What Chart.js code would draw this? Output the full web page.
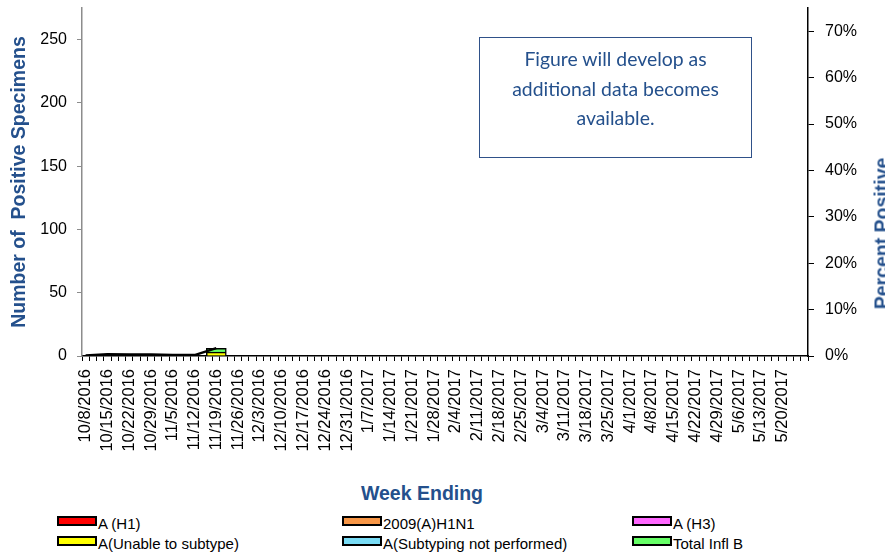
<!DOCTYPE html>
<html>
<head>
<meta charset="utf-8">
<script src="https://cdn.jsdelivr.net/npm/chart.js@4"></script>
<style>
  body { margin: 0; background: #fff; overflow: hidden; }
  #wrap { position: relative; width: 885px; height: 552px; font-family: "Liberation Sans", Arial, sans-serif; }
  #chart { position: absolute; left: 0; top: 0; }
  .note {
    position: absolute; left: 479px; top: 37px; width: 271px; height: 113px;
    border: 1.5px solid #2f5189; box-sizing: content-box;
    font-family: Lato, sans-serif; font-size: 19.4px; line-height: 29.5px;
    color: #24508c; text-align: center; padding-top: 6px;
  }
  .xtitle {
    position: absolute; left: 322px; top: 482px; width: 200px; text-align: center;
    font-weight: bold; font-size: 19.5px; color: #24508c;
  }
  .y2title {
    position: absolute; left: 802px; top: 222px; width: 160px; text-align: center;
    font-weight: bold; font-size: 19.5px; color: #24508c;
    transform: rotate(-90deg);
  }
  .legend { position: absolute; left: 0; top: 515px; width: 885px; font-size: 15px; color: #000; }
  .legend div { position: absolute; white-space: nowrap; line-height: 18px; }
  .legend span {
    display: inline-block; width: 36px; height: 6px; border: 2px solid #000;
    vertical-align: 3px; margin-right: 1px;
  }
</style>
</head>
<body>
<div id="wrap">
  <canvas id="chart" width="885" height="470"></canvas>
  <div class="note">Figure will develop as<br>additional data becomes<br>available.</div>
  <div class="xtitle">Week Ending</div>
  <div class="y2title">Percent Positive</div>
  <div class="legend" id="legend"></div>
</div>
<script>
// week ending labels (last slot is left blank on the axis)
const weeks = [
  "10/8/2016", "10/15/2016", "10/22/2016", "10/29/2016", "11/5/2016", "11/12/2016",
  "11/19/2016", "11/26/2016", "12/3/2016", "12/10/2016", "12/17/2016", "12/24/2016",
  "12/31/2016", "1/7/2017", "1/14/2017", "1/21/2017", "1/28/2017", "2/4/2017",
  "2/11/2017", "2/18/2017", "2/25/2017", "3/4/2017", "3/11/2017", "3/18/2017",
  "3/25/2017", "4/1/2017", "4/8/2017", "4/15/2017", "4/22/2017", "4/29/2017",
  "5/6/2017", "5/13/2017", "5/20/2017", ""
];

// positive specimens per week (only weeks reported so far)
const aH1 = [0, 0, 0, 0, 0, 0, 0];
const a2009H1N1 = [0, 0, 0, 0, 0, 0, 0];
const aH3 = [0, 0, 0, 0, 0, 0, 0];
const aUnable = [0, 0, 0, 0, 0, 0, 3];
const aNotPerformed = [0, 0, 0, 0, 0, 0, 0];
const totalB = [0, 0, 0, 0, 0, 0, 3];

// percent positive (right axis)
const pctPositive = [0.1, 0.4, 0.35, 0.3, 0.2, 0.2, 1.7];

const series = [
  { label: "A (H1)", values: aH1, color: "#ff0000" },
  { label: "2009(A)H1N1", values: a2009H1N1, color: "#f79646" },
  { label: "A (H3)", values: aH3, color: "#ff66ff" },
  { label: "A(Unable to subtype)", values: aUnable, color: "#ffff00" },
  { label: "A(Subtyping not performed)", values: aNotPerformed, color: "#79dcf5" },
  { label: "Total Infl B", values: totalB, color: "#66ff66" }
];

const toPoints = (arr) => arr.map((v, i) => ({ x: i, y: v }));

const datasets = series.map((s) => ({
  type: "bar",
  label: s.label,
  data: toPoints(s.values),
  backgroundColor: s.color,
  borderColor: "#000000",
  borderWidth: 1.5,
  barThickness: 20,
  yAxisID: "y",
  order: 2
}));

datasets.push({
  type: "line",
  label: "Percent Positive",
  data: toPoints(pctPositive),
  borderColor: "#000000",
  borderWidth: 2.5,
  pointRadius: 0,
  fill: false,
  yAxisID: "y2",
  order: 1
});

const tickFont = { family: "'Liberation Sans', Arial, sans-serif", size: 16 };

// drop the edge padding chart.js reserves for labels
const noPad = (s) => { s.paddingTop = 0; s.paddingBottom = 0; s.paddingLeft = 0; s.paddingRight = 0; };

new Chart(document.getElementById("chart"), {
  data: { datasets: datasets },
  options: {
    responsive: false,
    animation: false,
    layout: { padding: { top: 8, left: 0, right: 0, bottom: 0 } },
    plugins: { legend: { display: false }, tooltip: { enabled: false } },
    scales: {
      x: {
        type: "linear",
        stacked: true,
        min: 0,
        max: 33,
        afterFit: (s) => { s.height = 114; noPad(s); },
        afterBuildTicks: (s) => {
          // three minor marks per week
          const t = [];
          for (let k = 0; k <= 99; k++) t.push({ value: k / 3 });
          s.ticks = t;
        },
        grid: { drawOnChartArea: false, tickLength: 5, color: "#000000" },
        border: { color: "#000000", width: 1.5 },
        ticks: {
          autoSkip: false,
          minRotation: 90,
          maxRotation: 90,
          padding: 8,
          color: "#000000",
          font: { family: "'Liberation Sans', Arial, sans-serif", size: 16.5 },
          callback: (v, i) => (i % 3 === 0 ? weeks[i / 3] : "")
        }
      },
      y: {
        stacked: true,
        position: "left",
        min: 0,
        max: 275,
        afterFit: (s) => { s.width = 82; noPad(s); },
        afterBuildTicks: (s) => { s.ticks = s.ticks.filter((t) => t.value <= 250); },
        grid: { drawOnChartArea: false, tickLength: 5, color: "#8c8c8c" },
        border: { color: "#8c8c8c", width: 1.5 },
        ticks: { stepSize: 50, padding: 10, color: "#000000", font: tickFont },
        title: {
          display: true,
          text: "Number of  Positive Specimens",
          color: "#24508c",
          font: { family: "'Liberation Sans', Arial, sans-serif", size: 19.5, weight: "bold" },
          padding: { top: 8, bottom: 0 }
        }
      },
      y2: {
        position: "right",
        min: 0,
        max: 75,
        afterFit: (s) => { s.width = 77; noPad(s); },
        afterBuildTicks: (s) => { s.ticks = s.ticks.filter((t) => t.value <= 70); },
        grid: { drawOnChartArea: false, tickLength: 6, color: "#000000" },
        border: { color: "#000000", width: 1.5 },
        ticks: {
          stepSize: 10,
          padding: 11,
          color: "#000000",
          font: tickFont,
          callback: (v) => v + "%"
        }
      }
    }
  }
});

// legend laid out in three columns like the original
const legendPos = [
  [57, 0], [342, 0], [632, 0],
  [57, 20], [342, 20], [632, 20]
];
const legendBox = document.getElementById("legend");
series.forEach((s, i) => {
  const d = document.createElement("div");
  d.style.left = legendPos[i][0] + "px";
  d.style.top = legendPos[i][1] + "px";
  d.innerHTML = '<span style="background:' + s.color + '"></span>' + s.label;
  legendBox.appendChild(d);
});
</script>
</body>
</html>
